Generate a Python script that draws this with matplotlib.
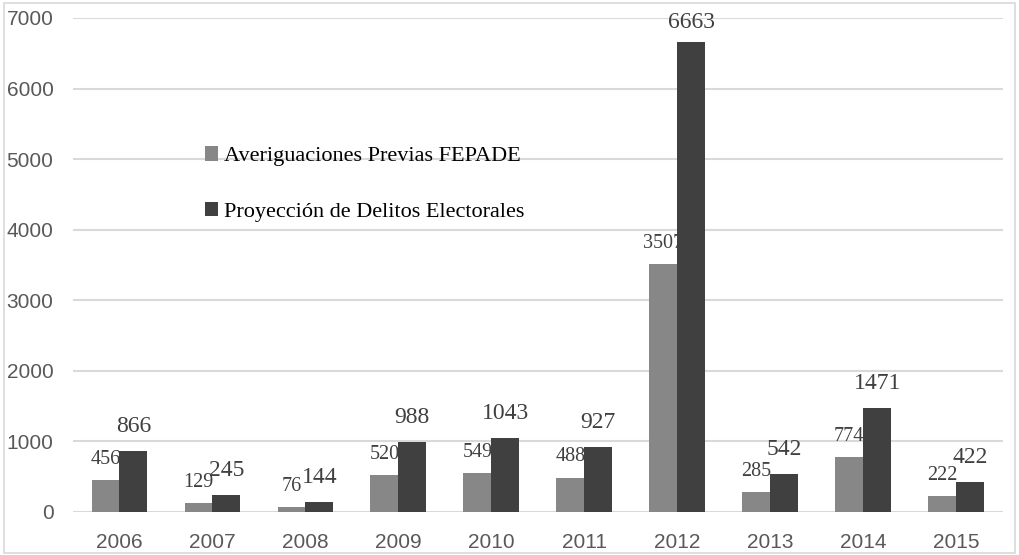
import numpy as np
import matplotlib.pyplot as plt
from matplotlib.patches import Rectangle

years = ['2006', '2007', '2008', '2009', '2010', '2011', '2012', '2013', '2014', '2015']
averiguaciones = [456, 129, 76, 520, 549, 488, 3507, 285, 774, 222]
proyeccion = [866, 245, 144, 988, 1043, 927, 6663, 542, 1471, 422]
yticks = [0, 1000, 2000, 3000, 4000, 5000, 6000, 7000]

light = '#878787'
dark = '#404040'
serif = 'Liberation Serif'


def main():
    fig = plt.figure(figsize=(10.19, 5.55), dpi=100)
    ax = fig.add_axes([0.0716, 0.0775, 0.9124, 0.8901])

    # thin frame around the whole picture
    fig.patches.append(Rectangle((0.004, 0.004), 0.992, 0.99, transform=fig.transFigure,
                                 fill=False, edgecolor='#d9d9d9', linewidth=1.2))

    x = np.arange(len(years))
    w = 0.3
    b1 = ax.bar(x - w/2, averiguaciones, w, color=light, zorder=2,
                label='Averiguaciones Previas FEPADE')
    b2 = ax.bar(x + w/2, proyeccion, w, color=dark, zorder=4,
                label='Proyección de Delitos Electorales')

    # data labels: the grey ones sit behind the dark bars
    for rect, v in zip(b1, averiguaciones):
        ax.annotate(str(v), (rect.get_x() + rect.get_width()/2, v), xytext=(0, 8),
                    textcoords='offset points', ha='center', va='bottom',
                    fontsize=14.5, family=serif, color='#404040', zorder=3)
    for rect, v in zip(b2, proyeccion):
        # the top label is squeezed down a little to stay inside the chart
        off = 6 if v > 6000 else 10
        ax.annotate(str(v), (rect.get_x() + rect.get_width()/2, v), xytext=(0, off),
                    textcoords='offset points', ha='center', va='bottom',
                    fontsize=17, family=serif, color='#404040', zorder=5)

    ax.set_xlim(-0.5, len(years) - 0.5)
    ax.set_ylim(0, 7000)
    ax.set_yticks(yticks)
    ax.set_xticks(x)
    ax.set_xticklabels(years)
    ax.yaxis.grid(True, color='#d9d9d9', linewidth=1.5, zorder=0)
    ax.set_axisbelow(True)
    for s in ax.spines.values():
        s.set_visible(False)
    ax.tick_params(length=0, labelsize=15, labelcolor='#595959')
    for lab in ax.get_xticklabels() + ax.get_yticklabels():
        lab.set_family('Liberation Sans')
    ax.tick_params(axis='x', pad=15)
    ax.tick_params(axis='y', pad=14)

    ax.legend(loc='upper left', bbox_to_anchor=(0.142, 0.74), frameon=False,
              prop={'family': serif, 'size': 16}, handlelength=0.6, handleheight=0.6,
              handletextpad=0.25, labelspacing=1.6, borderaxespad=0, borderpad=0)

    fig.savefig('out.png', dpi=100)


if __name__ == '__main__':
    main()
